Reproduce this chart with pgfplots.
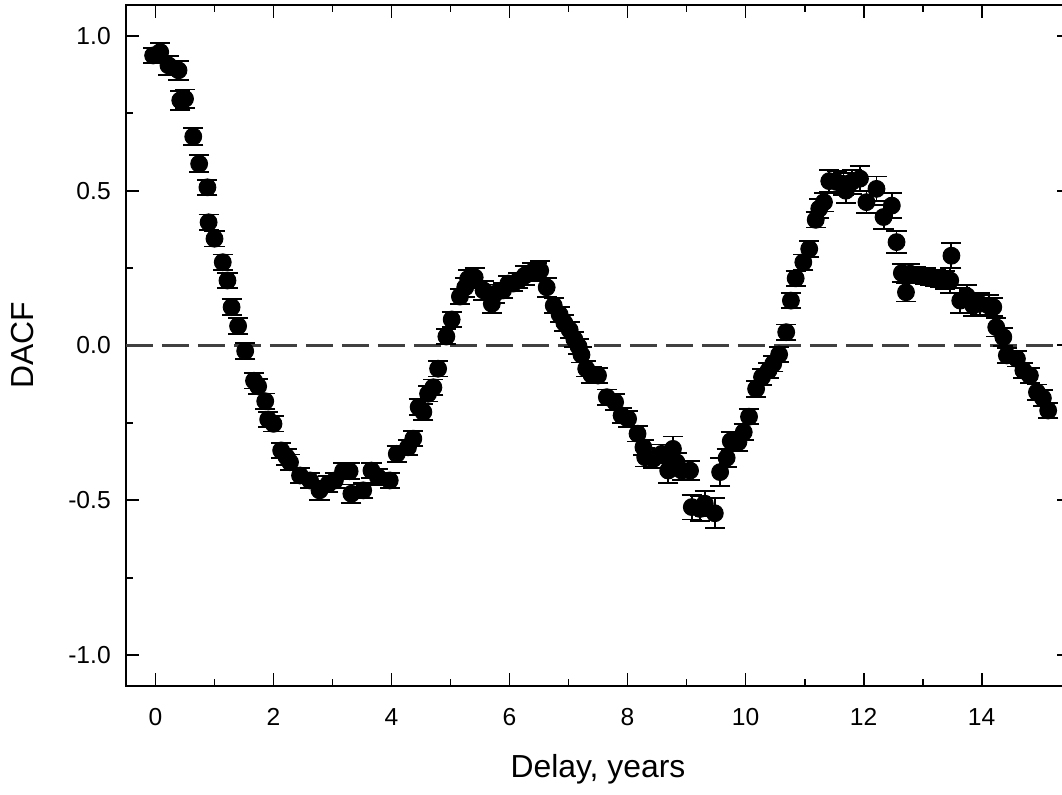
\documentclass[border=0pt]{standalone}
\usepackage{fontspec}
\setmainfont{Liberation Sans}
\usepackage{pgfplots}
\pgfplotsset{compat=1.18}
\usepackage{pgfplotstable}

% delay (years), DACF, error
\pgfplotstableread{
x y e
-0.04 0.937 0.025
0.08 0.948 0.030
0.22 0.905 0.030
0.39 0.889 0.030
0.42 0.792 0.030
0.50 0.797 0.030
0.64 0.675 0.027
0.74 0.587 0.027
0.88 0.511 0.025
0.90 0.398 0.025
1.00 0.345 0.025
1.14 0.269 0.025
1.22 0.210 0.025
1.29 0.124 0.025
1.40 0.063 0.025
1.52 -0.018 0.025
1.67 -0.114 0.025
1.74 -0.132 0.025
1.86 -0.180 0.025
1.91 -0.239 0.025
2.00 -0.253 0.025
2.13 -0.339 0.025
2.22 -0.360 0.025
2.28 -0.377 0.025
2.45 -0.420 0.025
2.62 -0.436 0.025
2.78 -0.468 0.030
2.93 -0.447 0.025
3.04 -0.436 0.025
3.18 -0.406 0.025
3.29 -0.406 0.025
3.32 -0.479 0.030
3.52 -0.468 0.025
3.66 -0.404 0.025
3.77 -0.425 0.025
3.97 -0.436 0.025
4.09 -0.350 0.025
4.28 -0.329 0.025
4.37 -0.301 0.025
4.46 -0.199 0.025
4.54 -0.215 0.025
4.62 -0.156 0.025
4.71 -0.135 0.025
4.79 -0.075 0.025
4.93 0.029 0.025
5.02 0.084 0.025
5.16 0.158 0.025
5.25 0.188 0.030
5.30 0.215 0.030
5.41 0.220 0.030
5.56 0.178 0.030
5.70 0.135 0.030
5.75 0.167 0.030
5.89 0.178 0.025
5.98 0.200 0.025
6.06 0.200 0.025
6.15 0.210 0.025
6.26 0.226 0.030
6.38 0.237 0.030
6.46 0.237 0.030
6.52 0.242 0.030
6.63 0.188 0.030
6.75 0.129 0.025
6.85 0.100 0.025
6.93 0.073 0.025
7.02 0.050 0.025
7.10 0.020 0.025
7.17 -0.003 0.025
7.22 -0.030 0.025
7.30 -0.075 0.025
7.39 -0.095 0.025
7.50 -0.097 0.025
7.65 -0.167 0.025
7.79 -0.183 0.025
7.90 -0.226 0.025
8.01 -0.237 0.025
8.17 -0.285 0.025
8.27 -0.329 0.025
8.30 -0.361 0.030
8.44 -0.366 0.030
8.58 -0.350 0.030
8.69 -0.404 0.040
8.77 -0.334 0.040
8.83 -0.377 0.030
8.92 -0.404 0.030
9.06 -0.404 0.030
9.09 -0.522 0.040
9.23 -0.528 0.040
9.31 -0.511 0.040
9.48 -0.542 0.048
9.57 -0.409 0.045
9.68 -0.363 0.030
9.75 -0.309 0.030
9.88 -0.312 0.030
9.97 -0.280 0.025
10.06 -0.230 0.025
10.18 -0.140 0.025
10.28 -0.102 0.025
10.39 -0.081 0.025
10.47 -0.059 0.025
10.57 -0.029 0.025
10.69 0.043 0.025
10.77 0.145 0.025
10.85 0.217 0.025
10.98 0.269 0.025
11.08 0.312 0.025
11.19 0.406 0.025
11.25 0.442 0.030
11.33 0.463 0.030
11.42 0.531 0.035
11.55 0.528 0.035
11.66 0.522 0.035
11.70 0.500 0.040
11.80 0.528 0.040
11.94 0.539 0.040
12.05 0.463 0.035
12.22 0.506 0.040
12.34 0.415 0.040
12.48 0.452 0.040
12.56 0.334 0.035
12.65 0.234 0.030
12.72 0.172 0.030
12.79 0.232 0.030
12.88 0.228 0.025
12.96 0.226 0.025
13.05 0.224 0.025
13.13 0.220 0.025
13.22 0.218 0.025
13.30 0.215 0.025
13.38 0.212 0.030
13.47 0.210 0.040
13.49 0.290 0.040
13.64 0.145 0.040
13.75 0.160 0.035
13.86 0.129 0.035
13.97 0.135 0.035
14.12 0.129 0.035
14.20 0.124 0.030
14.25 0.059 0.030
14.37 0.027 0.030
14.43 -0.032 0.025
14.60 -0.043 0.025
14.71 -0.081 0.025
14.82 -0.097 0.025
14.94 -0.151 0.025
15.04 -0.170 0.025
15.13 -0.210 0.025
}\dacf

\begin{document}
\begin{tikzpicture}
\begin{axis}[
    scale only axis,
    width=14.16cm,
    height=10.215cm,
    xmin=-0.5, xmax=15.5,
    ymin=-1.1, ymax=1.1,
    axis line style={line width=0.85pt},
    tick style={line width=0.85pt, black},
    tick align=inside,
    tick pos=both,
    xticklabel pos=lower,
    yticklabel pos=left,
    major tick length=0.195cm,
    minor tick length=0.11cm,
    xtick={0,2,...,14},
    minor x tick num=1,
    ytick={-1,-0.5,0,0.5,1},
    yticklabels={-1.0,-0.5,0.0,0.5,1.0},
    minor y tick num=1,
    /pgf/number format/assume math mode=true,
    ticklabel style={font=\fontsize{10.5}{12}\selectfont},
    xticklabel style={yshift=-6pt},
    yticklabel style={xshift=-3pt},
    xlabel={Delay, years},
    ylabel={DACF},
    label style={font=\fontsize{13.6}{16}\selectfont},
    xlabel style={at={(axis description cs:0.5,-0.1219)}, anchor=center},
    ylabel style={at={(axis description cs:-0.1091,0.5)}, anchor=center},
]
\addplot[black!75, line width=1pt, dash pattern=on 0.4cm off 0.14cm]
    coordinates {(-0.5,0) (15.5,0)};
\addplot[only marks, mark=*, mark size=3.6pt, black,
    mark options={fill=black, draw=black},
    error bars/.cd, y dir=both, y explicit,
    error bar style={line width=0.8pt, black},
    error mark options={line width=0.8pt, black, mark size=4.3pt, rotate=90}]
    table[x=x, y=y, y error=e] {\dacf};
\coordinate (sw) at (rel axis cs:0,0);
\coordinate (ne) at (rel axis cs:1,1);
\end{axis}
\pgfresetboundingbox
\path[use as bounding box] ([shift={(-1.89cm,-1.635cm)}]sw) rectangle ([shift={(-0.12cm,0.075cm)}]ne);
\end{tikzpicture}
\end{document}
